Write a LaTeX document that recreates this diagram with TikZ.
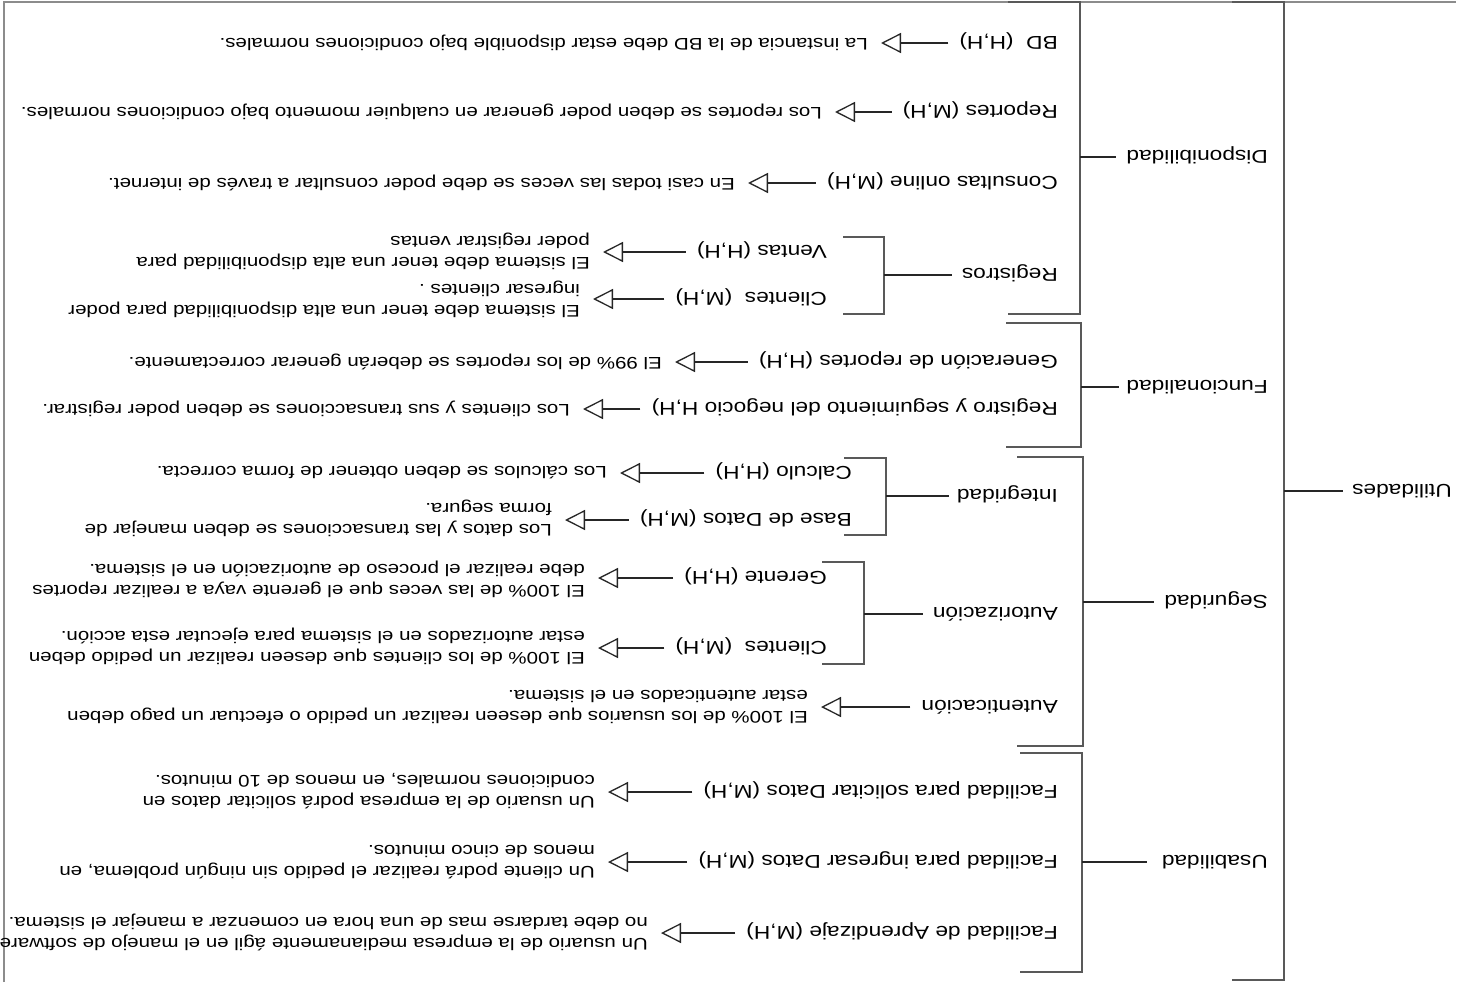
\documentclass[tikz,border=0pt]{standalone}
\usepackage{fontspec}
\usetikzlibrary{arrows.meta}
\newfontfamily\diagfont[FakeStretch=1.22]{Liberation Sans}
\begin{document}
\begin{tikzpicture}[x=1pt,y=-1pt,
  lab/.style={rotate=180, anchor=west, inner sep=0pt, text height=13.3pt, text depth=0pt,
    font=\diagfont\fontsize{18.6}{22}\selectfont},
  desc/.style={rotate=180, anchor=west, inner sep=0pt, align=left,
    font=\diagfont\fontsize{16.8}{21}\selectfont},
  brk/.style={draw=black!65, line width=1.8pt},
  tick/.style={draw=black!85, line width=1.4pt},
  req/.style={draw=black!85, line width=1.3pt,
    -{Triangle[open,length=20pt,width=20pt,line width=1.3pt]},
    shorten <=11pt, shorten >=13pt},
]
\useasboundingbox (0,0) rectangle (1458,982);
\fill[white] (0,0) rectangle (1458,982);

% outer frame
\draw[draw=black!45, line width=1.5pt] (4,982) -- (4,2) -- (1456,2);

% root and categories
\node[lab] (util) at (1452,491) {Utilidades};
\node[lab] (disp) at (1268,157) {Disponibilidad};
\node[lab] (func) at (1268,387) {Funcionalidad};
\node[lab] (seg)  at (1268,602) {Seguridad};
\node[lab] (usa)  at (1268,862) {Usabilidad};

% root bracket
\draw[brk] (1232,2) -- (1284,2) -- (1284,980) -- (1232,980);
\coordinate (utilmid) at (1284,491);
\draw[tick, shorten >=9pt] (utilmid) -- (util.east);

% category brackets
\draw[brk] (1008,2) -- (1080,2) -- (1080,314) -- (1008,314);
\coordinate (dispmid) at (1080,157);
\draw[tick, shorten >=10pt] (dispmid) -- (disp.east);

\draw[brk] (1006,323) -- (1081,323) -- (1081,447) -- (1006,447);
\coordinate (funcmid) at (1081,387);
\draw[tick, shorten >=7pt] (funcmid) -- (func.east);

\draw[brk] (1017,457) -- (1083,457) -- (1083,746) -- (1017,746);
\coordinate (segmid) at (1083,602);
\draw[tick, shorten >=10pt] (segmid) -- (seg.east);

\draw[brk] (1020,753) -- (1082,753) -- (1082,972) -- (1020,972);
\coordinate (usamid) at (1082,862);
\draw[tick, shorten >=15pt] (usamid) -- (usa.east);

% Disponibilidad
\node[lab] (bd) at (1058,43) {BD\ \ (H,H)};
\node[desc] (bdd) at (868,43) {La instancia de la BD debe estar disponible bajo condiciones normales.};
\draw[req] (bd.east) -- (bd.east -| bdd.west);

\node[lab] (rep) at (1058,112) {Reportes (M,H)};
\node[desc] (repd) at (822,112) {Los reportes se deben poder generar en cualquier momento bajo condiciones normales.};
\draw[req] (rep.east) -- (rep.east -| repd.west);

\node[lab] (con) at (1058,183) {Consultas online (M,H)};
\node[desc] (cond) at (735,183) {En casi todas las veces se debe poder consultar a través de internet.};
\draw[req] (con.east) -- (con.east -| cond.west);

\node[lab] (reg) at (1058,275) {Registros};
\draw[brk] (843,237) -- (884,237) -- (884,314) -- (843,314);
\coordinate (regmid) at (884,275);
\draw[tick, shorten >=10pt] (regmid) -- (reg.east);

\node[lab] (ven) at (827,252) {Ventas (H,H)};
\node[desc] (vend) at (590,251) {El sistema debe tener una alta disponibilidad para\\poder registrar ventas};
\draw[req] (ven.east) -- (ven.east -| vend.west);

\node[lab] (clr) at (827,299) {Clientes\ \ (M,H)};
\node[desc] (clrd) at (580,299) {El sistema debe tener una alta disponibilidad para poder\\ingresar clientes .};
\draw[req] (clr.east) -- (clr.east -| clrd.west);

% Funcionalidad
\node[lab] (gen) at (1058,362) {Generación de reportes (H,H)};
\node[desc] (gend) at (662,362) {El 99\% de los reportes se deberán generar correctamente.};
\draw[req] (gen.east) -- (gen.east -| gend.west);

\node[lab] (rys) at (1058,409) {Registro y seguimiento del negocio H,H)};
\node[desc] (rysd) at (570,409) {Los clientes y sus transacciones se deben poder registrar.};
\draw[req] (rys.east) -- (rys.east -| rysd.west);

% Seguridad
\node[lab] (int) at (1058,496) {Integridad};
\draw[brk] (844,458) -- (886,458) -- (886,535) -- (844,535);
\coordinate (intmid) at (886,496);
\draw[tick, shorten >=8pt] (intmid) -- (int.east);

\node[lab] (cal) at (852,473) {Calculo (H,H)};
\node[desc] (cald) at (607,473) {Los cálculos se deben obtener de forma correcta.};
\draw[req] (cal.east) -- (cal.east -| cald.west);

\node[lab] (bdat) at (852,520) {Base de Datos (M,H)};
\node[desc] (bdatd) at (552,518) {Los datos y las transacciones se deben manejar de\\forma segura.};
\draw[req] (bdat.east) -- (bdat.east -| bdatd.west);

\node[lab] (aut) at (1058,614) {Autorización};
\draw[brk] (822,562) -- (864,562) -- (864,664) -- (822,664);
\coordinate (autmid) at (864,614);
\draw[tick, shorten >=10pt] (autmid) -- (aut.east);

\node[lab] (ger) at (827,578) {Gerente (H,H)};
\node[desc] (gerd) at (585,579) {El 100\% de las veces que el gerente vaya a realizar reportes\\debe realizar el proceso de autorización en el sistema.};
\draw[req] (ger.east) -- (ger.east -| gerd.west);

\node[lab] (cla) at (827,648) {Clientes\ \ (M,H)};
\node[desc] (clad) at (585,646) {El 100\% de los clientes que deseen realizar un pedido deben\\estar autorizados en el sistema para ejecutar esta acción.};
\draw[req] (cla.east) -- (cla.east -| clad.west);

\node[lab] (aute) at (1058,707) {Autenticación};
\node[desc] (auted) at (808,707) {El 100\% de los usuarios que deseen realizar un pedido o efectuar un pago deben\\estar autenticados en el sistema.};
\draw[req] (aute.east) -- (aute.east -| auted.west);

% Usabilidad
\node[lab] (sol) at (1058,792) {Facilidad para solicitar Datos (M,H)};
\node[desc] (sold) at (595,791) {Un usuario de la empresa podrá solicitar datos en\\condiciones normales, en menos de 10 minutos.};
\draw[req] (sol.east) -- (sol.east -| sold.west);

\node[lab] (ing) at (1058,862) {Facilidad para ingresar Datos (M,H)};
\node[desc] (ingd) at (595,862) {Un cliente podrá realizar el pedido sin ningún problema, en\\menos de cinco minutos.};
\draw[req] (ing.east) -- (ing.east -| ingd.west);

\node[lab] (apr) at (1058,933) {Facilidad de Aprendizaje (M,H)};
\node[desc] (aprd) at (648,932) {Un usuario de la empresa medianamente ágil en el manejo de software\\no debe tardarse mas de una hora en comenzar a manejar el sistema.};
\draw[req] (apr.east) -- (apr.east -| aprd.west);
\end{tikzpicture}
\end{document}
